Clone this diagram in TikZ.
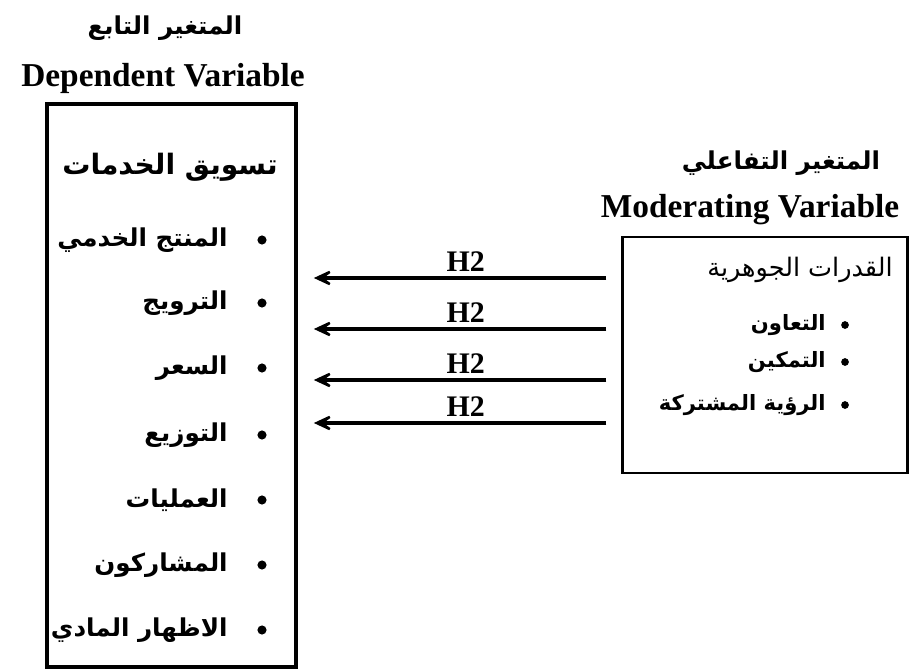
\documentclass[tikz,border=0pt]{standalone}
\usepackage{fontspec}
\setmainfont{Liberation Serif}
\newfontfamily\arabicfont[Script=Arabic]{DejaVu Sans}
\TeXXeTstate=1
\usetikzlibrary{arrows.meta, positioning}
\tikzset{
	>={Stealth[length=15pt, width=14pt, inset=9.5pt]},
	varbox/.style={draw, rectangle, inner sep=0pt},
	entitle/.style={font=\bfseries\fontsize{19}{22}\selectfont},
	artitle/.style={font=\arabicfont\bfseries\fontsize{14}{17}\selectfont},
	item/.style={anchor=east, inner sep=0pt, font=\arabicfont\bfseries\fontsize{14}{17}\selectfont},
	hyp/.style={->, line width=2.4pt, shorten <=8pt, shorten >=9pt},
}

\begin{document}
\begin{tikzpicture}[x=0.02cm, y=-0.02cm]
	\useasboundingbox (0,0) rectangle (912,672);

	% titles
	\node[artitle] (DEPAR) at (165,28) {\beginR المتغير التابع\endR};
	\node[entitle] (DEPEN) at (163,78) {Dependent Variable};
	\node[artitle] (MODAR) at (781,163) {\beginR المتغير التفاعلي\endR};
	\node[entitle] (MODEN) at (750,210) {Moderating Variable};

	% boxes
	\node[varbox, line width=2.3pt, minimum width=249*0.02cm, minimum height=563*0.02cm] (DEPBOX) at (171.5,385.5) {};
	\node[varbox, line width=1.7pt, minimum width=285*0.02cm, minimum height=236*0.02cm] (MODBOX) at (764.5,355) {};

	% dependent variable
	\node[item, font=\arabicfont\bfseries\fontsize{16}{19}\selectfont] (SERV) at (278,167) {\beginR تسويق الخدمات\endR};
	\foreach \y/\t in {240/المنتج الخدمي, 303/الترويج, 368/السعر, 435/التوزيع, 500/العمليات, 565/المشاركون, 630/الاظهار المادي}{
		\node[item] (DEP\y) at (228,\y) {\beginR\t\endR};
		\fill (262,\y) circle (2.6pt);
	}

	% moderating variable
	\node[item, font=\arabicfont\fontsize{14.5}{17}\selectfont] (CORE) at (893,270) {\beginR القدرات الجوهرية\endR};
	\foreach \y/\t in {325/التعاون, 362/التمكين, 405/الرؤية المشتركة}{
		\node[item, font=\arabicfont\bfseries\fontsize{12}{15}\selectfont] (MOD\y) at (826,\y) {\beginR\t\endR};
		\fill (845,\y) circle (2.2pt);
	}

	% hypotheses
	\foreach \y in {278,329,380,423}
		\draw[hyp] (MODBOX.west |- 0,\y) -- node[entitle, above=-1pt, pos=0.48, font=\bfseries\fontsize{17}{20}\selectfont]{H2} (DEPBOX.east |- 0,\y);

\end{tikzpicture}
\end{document}
